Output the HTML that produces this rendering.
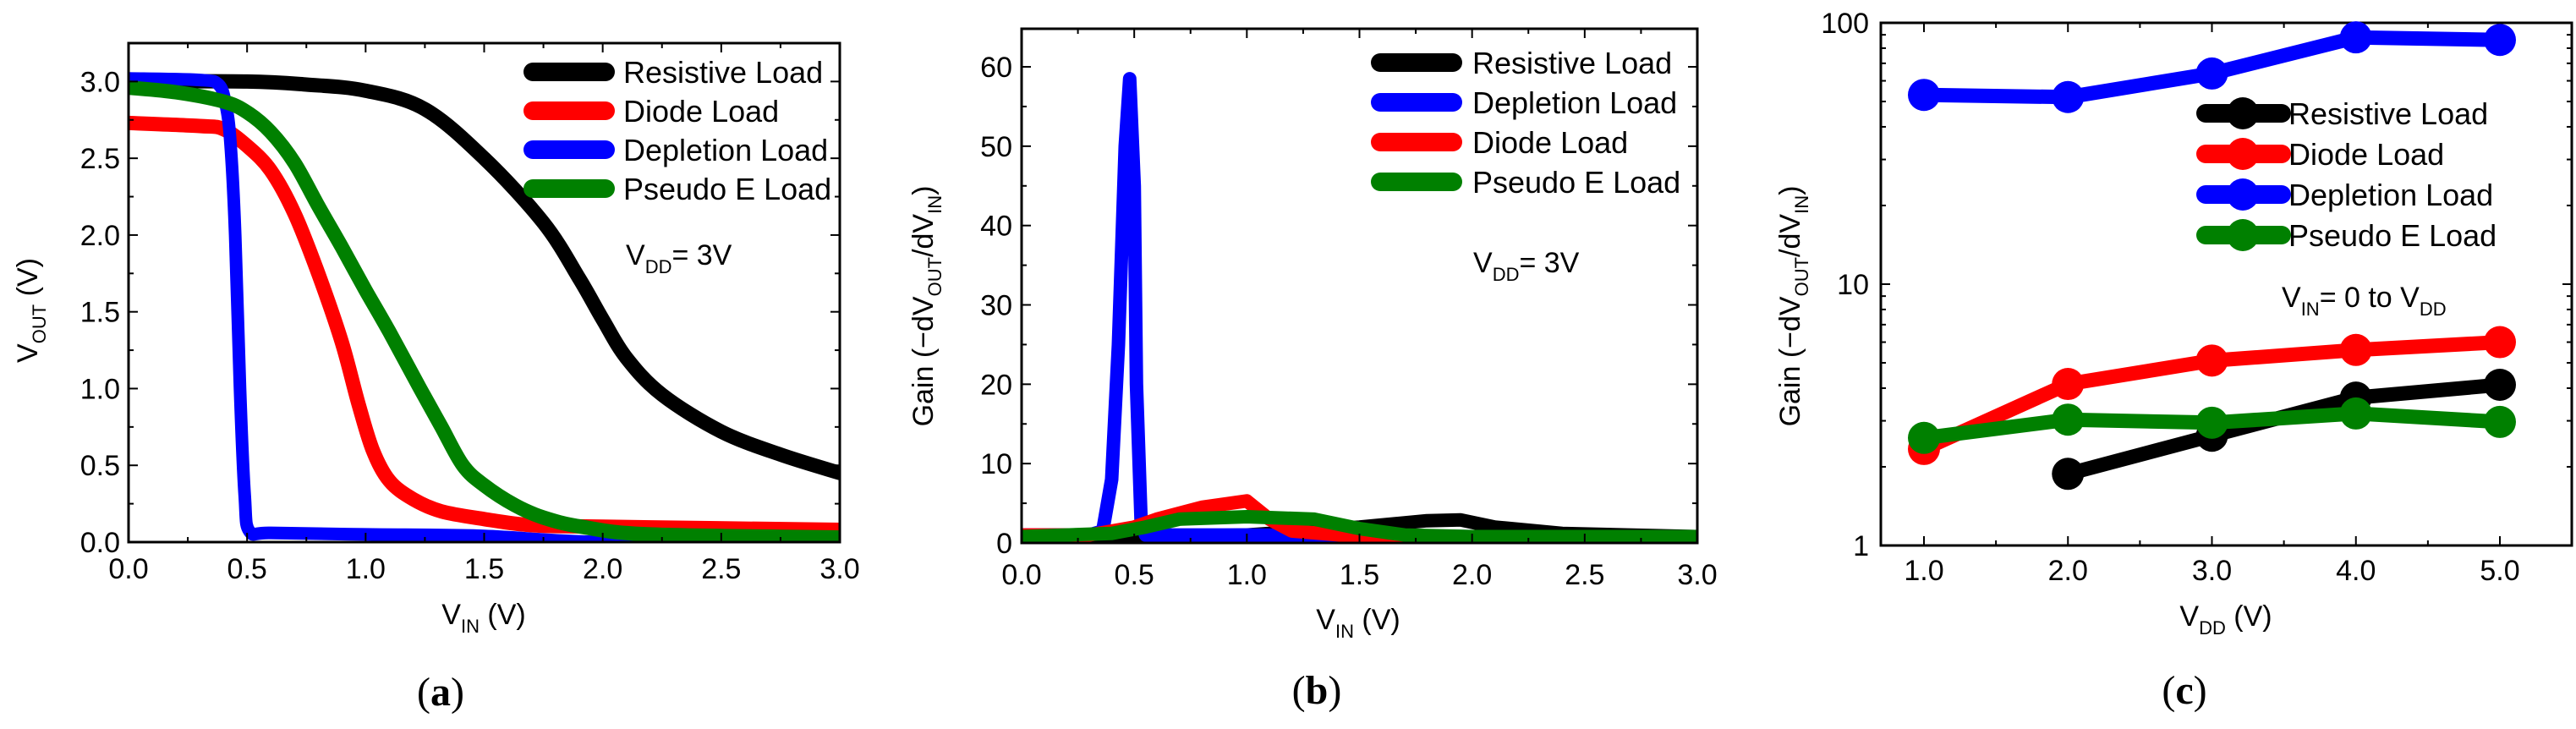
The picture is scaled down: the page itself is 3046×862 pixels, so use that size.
<!DOCTYPE html>
<html><head><meta charset="utf-8">
<style>
html,body{margin:0;padding:0;background:#fff;}
svg{display:block;font-family:"Liberation Sans",Arial,sans-serif;}
</style></head>
<body>
<svg id="fig" width="3046" height="862" viewBox="0 0 3046 862" xmlns="http://www.w3.org/2000/svg">
<g id="pa"></g>
<g id="pb"></g>
<g id="pc"></g>
</svg>
<script>
// ---------- Panel (a) data ----------
const aRes = [[0,3.0],[0.5,3.0],[0.75,2.98],[1.0,2.94],[1.25,2.82],[1.5,2.5],[1.75,2.08],[1.9,1.72],[2.0,1.45],[2.1,1.2],[2.25,0.96],[2.5,0.72],[2.75,0.57],[3.0,0.45]];
const aDio = [[0,2.73],[0.3,2.71],[0.4,2.69],[0.5,2.58],[0.6,2.42],[0.7,2.14],[0.8,1.75],[0.9,1.3],[0.97,0.9],[1.03,0.6],[1.1,0.4],[1.2,0.28],[1.32,0.2],[1.5,0.15],[1.7,0.11],[2.0,0.1],[3.0,0.08]];
const aDep = [[0,3.02],[0.3,3.01],[0.38,2.98],[0.41,2.85],[0.43,2.6],[0.45,2.0],[0.47,1.0],[0.49,0.3],[0.51,0.07],[0.6,0.06],[1.0,0.05],[1.5,0.04],[2.0,0.0],[3.0,0.0]];
const aPse = [[0,2.96],[0.2,2.93],[0.4,2.87],[0.5,2.8],[0.6,2.67],[0.7,2.47],[0.8,2.19],[0.9,1.92],[1.0,1.64],[1.1,1.37],[1.23,1.0],[1.32,0.75],[1.41,0.5],[1.5,0.37],[1.63,0.24],[1.75,0.16],[1.91,0.1],[2.2,0.05],[3.0,0.03]];
const aXTicks = ["0.0","0.5","1.0","1.5","2.0","2.5","3.0"];
const aYTicks = ["0.0","0.5","1.0","1.5","2.0","2.5","3.0"];
// ---------- Panel (b) data ----------
const bRes = [[0,0.6],[0.5,0.8],[1.0,1.0],[1.5,2.0],[1.8,2.8],[1.95,2.9],[2.1,2.0],[2.4,1.2],[3.0,0.8]];
const bDep = [[0,1],[0.3,1],[0.36,1.5],[0.4,8],[0.43,25],[0.46,50],[0.48,58.5],[0.5,45],[0.51,20],[0.53,3],[0.55,1],[1.0,1],[3.0,0.6]];
const bDio = [[0,1],[0.3,1],[0.5,2],[0.6,3],[0.8,4.5],[1.0,5.3],[1.1,3],[1.2,1.5],[1.5,0.8],[3.0,0.6]];
const bPse = [[0,0.8],[0.4,1.2],[0.55,2],[0.7,3],[1.0,3.3],[1.3,3],[1.5,1.8],[1.7,1],[2.0,0.8],[3.0,0.8]];
const bXTicks = ["0.0","0.5","1.0","1.5","2.0","2.5","3.0"];
const bYTicks = ["0","10","20","30","40","50","60"];
// ---------- Panel (c) data ----------
const cVdd = [1,2,3,4,5];
const cRes = [null,1.88,2.63,3.68,4.12];
const cDio = [2.34,4.15,5.1,5.6,6.0];
const cDep = [53,52,64,88,86];
const cPse = [2.58,3.03,2.95,3.2,2.97];
const cXTicks = ["1.0","2.0","3.0","4.0","5.0"];
const cYTicks = ["1","10","100"];

const NS="http://www.w3.org/2000/svg";
function mk(parent,tag,attrs){const e=document.createElementNS(NS,tag);for(const k in attrs)e.setAttribute(k,attrs[k]);parent.appendChild(e);return e;}
function txt(parent,x,y,s,size,anchor,extra){const t=mk(parent,'text',Object.assign({x:x,y:y,'font-size':size,'text-anchor':anchor||'start',fill:'#000'},extra||{}));t.innerHTML=s;return t;}
const C={k:'#000000',r:'#ff0000',b:'#0000ff',g:'#008000'};

function frame(g,L,T,R,B){mk(g,'rect',{x:L,y:T,width:R-L,height:B-T,fill:'none',stroke:'#000','stroke-width':3});}
function pathD(P,smooth){
  if(!smooth) return P.map((p,i)=>(i?'L':'M')+p[0].toFixed(1)+','+p[1].toFixed(1)).join(' ');
  let d='M'+P[0][0].toFixed(1)+','+P[0][1].toFixed(1);
  for(let i=0;i<P.length-1;i++){
    const p0=P[Math.max(i-1,0)],p1=P[i],p2=P[i+1],p3=P[Math.min(i+2,P.length-1)];
    const c1=[p1[0]+(p2[0]-p0[0])/6,p1[1]+(p2[1]-p0[1])/6];
    const c2=[p2[0]-(p3[0]-p1[0])/6,p2[1]-(p3[1]-p1[1])/6];
    d+=' C'+c1[0].toFixed(1)+','+c1[1].toFixed(1)+' '+c2[0].toFixed(1)+','+c2[1].toFixed(1)+' '+p2[0].toFixed(1)+','+p2[1].toFixed(1);
  }
  return d;
}
function linePath(g,pts,sx,sy,color,w,name,smooth){
  const P=pts.map(p=>[sx(p[0]),sy(p[1])]);
  const p=mk(g,'path',{d:pathD(P,smooth),fill:'none',stroke:color,'stroke-width':w,'stroke-linejoin':'round','stroke-linecap':'round'});
  
  
  return p;
}

// ===== Panel A =====
(function(){
 const g=document.getElementById('pa');
 const L=152,R=993,T=51,B=641;
 const sx=v=>L+(v/3)*(R-L), sy=v=>B-(v/3.25)*(B-T);
 const clip=mk(g,'clipPath',{id:'ca'});mk(clip,'rect',{x:L,y:T,width:R-L,height:B-T});
 const dg=mk(g,'g',{'clip-path':'url(#ca)'});
 linePath(dg,aRes,sx,sy,C.k,17,'resistive-load-line',true);
 linePath(dg,aDio,sx,sy,C.r,17,'diode-load-line',true);
 linePath(dg,aDep,sx,sy,C.b,15,'depletion-load-line',true);
 linePath(dg,aPse,sx,sy,C.g,17,'pseudo-e-load-line',true);
 frame(g,L,T,R,B);
 for(let i=0;i<=12;i++){const v=i*0.25,x=sx(v),l=i%2?6:11;mk(g,'line',{x1:x,y1:B,x2:x,y2:B-l,stroke:'#000','stroke-width':2});mk(g,'line',{x1:x,y1:T,x2:x,y2:T+l,stroke:'#000','stroke-width':2});}
 for(let i=0;i<=13;i++){const v=i*0.25,y=sy(v),l=i%2?6:11;mk(g,'line',{x1:L,y1:y,x2:L+l,y2:y,stroke:'#000','stroke-width':2});mk(g,'line',{x1:R,y1:y,x2:R-l,y2:y,stroke:'#000','stroke-width':2});}
 aXTicks.forEach((s,i)=>{const t=txt(g,sx(i*0.5),684,s,34,'middle');});
 aYTicks.forEach((s,i)=>{const t=txt(g,142,sy(i*0.5)+12,s,34,'end');});
 const leg=[['Resistive Load',C.k],['Diode Load',C.r],['Depletion Load',C.b],['Pseudo E Load',C.g]];
 leg.forEach((e,i)=>{const y=85+i*46;const l=mk(g,'line',{x1:630,y1:y,x2:716,y2:y,stroke:e[1],'stroke-width':22,'stroke-linecap':'round'});const t=txt(g,737,y+13,e[0],36,'start');});
 const v=txt(g,740,313,'V<tspan font-size="22" dy="10">DD</tspan><tspan dy="-10">= 3V</tspan>',34);
 const yt=txt(g,0,0,'V<tspan font-size="22" dy="10">OUT</tspan><tspan dy="-10"> (V)</tspan>',34,'middle',{transform:'translate(44,367) rotate(-90)'});
 const xt=txt(g,572,738,'V<tspan font-size="22" dy="10">IN</tspan><tspan dy="-10"> (V)</tspan>',34,'middle');
 const cap=txt(g,521,834,'(<tspan font-weight="bold">a</tspan>)',48,'middle',{'font-family':'"Liberation Serif",serif'});
})();

// ===== Panel B =====
(function(){
 const g=document.getElementById('pb');
 const L=1208,R=2007,T=34,B=642;
 const sx=v=>L+(v/3)*(R-L), sy=v=>B-(v/64.8)*(B-T);
 const clip=mk(g,'clipPath',{id:'cb'});mk(clip,'rect',{x:L,y:T,width:R-L,height:B-T});
 const dg=mk(g,'g',{'clip-path':'url(#cb)'});
 linePath(dg,bRes,sx,sy,C.k,16,'resistive-gain-line',false);
 linePath(dg,bDep,sx,sy,C.b,16,'depletion-gain-line',false);
 linePath(dg,bDio,sx,sy,C.r,16,'diode-gain-line',false);
 linePath(dg,bPse,sx,sy,C.g,16,'pseudo-e-gain-line',false);
 frame(g,L,T,R,B);
 for(let i=0;i<=12;i++){const v=i*0.25,x=sx(v),l=i%2?6:11;mk(g,'line',{x1:x,y1:B,x2:x,y2:B-l,stroke:'#000','stroke-width':2});mk(g,'line',{x1:x,y1:T,x2:x,y2:T+l,stroke:'#000','stroke-width':2});}
 for(let i=0;i<=12;i++){const v=i*5,y=sy(v),l=i%2?6:11;mk(g,'line',{x1:L,y1:y,x2:L+l,y2:y,stroke:'#000','stroke-width':2});mk(g,'line',{x1:R,y1:y,x2:R-l,y2:y,stroke:'#000','stroke-width':2});}
 bXTicks.forEach((s,i)=>{const t=txt(g,sx(i*0.5),691,s,34,'middle');});
 bYTicks.forEach((s,i)=>{const t=txt(g,1197,sy(i*10)+12,s,34,'end');});
 const leg=[['Resistive Load',C.k],['Depletion Load',C.b],['Diode Load',C.r],['Pseudo E Load',C.g]];
 leg.forEach((e,i)=>{const y=74+i*47;const l=mk(g,'line',{x1:1632,y1:y,x2:1718,y2:y,stroke:e[1],'stroke-width':22,'stroke-linecap':'round'});const t=txt(g,1741,y+13,e[0],36,'start');});
 const v=txt(g,1742,322,'V<tspan font-size="22" dy="10">DD</tspan><tspan dy="-10">= 3V</tspan>',34);
 const yt=txt(g,0,0,'Gain (&#8722;dV<tspan font-size="22" dy="10">OUT</tspan><tspan dy="-10">/dV</tspan><tspan font-size="22" dy="10">IN</tspan><tspan dy="-10">)</tspan>',34,'middle',{transform:'translate(1103,362) rotate(-90)'});
 const xt=txt(g,1606,744,'V<tspan font-size="22" dy="10">IN</tspan><tspan dy="-10"> (V)</tspan>',34,'middle');
 const cap=txt(g,1557,832,'(<tspan font-weight="bold">b</tspan>)',48,'middle',{'font-family':'"Liberation Serif",serif'});
})();

// ===== Panel C =====
(function(){
 const g=document.getElementById('pc');
 const L=2224,R=3041,T=27,B=645;
 const sx=v=>2275+(v-1)*170.25, sy=v=>B-Math.log10(v)/2*(B-T);
 frame(g,L,T,R,B);
 for(let i=0;i<=9;i++){const v=1+i*0.5;const x=sx(v),l=i%2?6:11;mk(g,'line',{x1:x,y1:B,x2:x,y2:B-l,stroke:'#000','stroke-width':2});mk(g,'line',{x1:x,y1:T,x2:x,y2:T+l,stroke:'#000','stroke-width':2});}
 [1,10].forEach(d=>{for(let m=1;m<=10;m++){const y=sy(d*m),l=(m===1||m===10)?11:6;mk(g,'line',{x1:L,y1:y,x2:L+l,y2:y,stroke:'#000','stroke-width':2});mk(g,'line',{x1:R,y1:y,x2:R-l,y2:y,stroke:'#000','stroke-width':2});}});
 const series=[[cRes,C.k,'resistive'],[cDio,C.r,'diode'],[cDep,C.b,'depletion'],[cPse,C.g,'pseudo-e']];
 series.forEach(s=>{
   const pts=[];cVdd.forEach((x,i)=>{if(s[0][i]!=null)pts.push([x,s[0][i]]);});
   linePath(g,pts,sx,sy,s[1],17,s[2]+'-gain-line',false);
   pts.forEach(p=>{const c=mk(g,'circle',{cx:sx(p[0]),cy:sy(p[1]),r:19,fill:s[1]});
     
     });
 });
 cXTicks.forEach((s,i)=>{const t=txt(g,sx(i+1),686,s,34,'middle');});
 cYTicks.forEach((s,i)=>{const t=txt(g,2210,sy(Math.pow(10,i))+12,s,34,'end');});
 const leg=[['Resistive Load',C.k],['Diode Load',C.r],['Depletion Load',C.b],['Pseudo E Load',C.g]];
 leg.forEach((e,i)=>{const y=134+i*48;const l=mk(g,'line',{x1:2608,y1:y,x2:2698,y2:y,stroke:e[1],'stroke-width':22,'stroke-linecap':'round'});mk(g,'circle',{cx:2652,cy:y,r:19,fill:e[1]});const t=txt(g,2706,y+13,e[0],36,'start');});
 const v=txt(g,2698,363,'V<tspan font-size="22" dy="10">IN</tspan><tspan dy="-10">= 0 to V</tspan><tspan font-size="22" dy="10">DD</tspan>',34);
 const yt=txt(g,0,0,'Gain (&#8722;dV<tspan font-size="22" dy="10">OUT</tspan><tspan dy="-10">/dV</tspan><tspan font-size="22" dy="10">IN</tspan><tspan dy="-10">)</tspan>',34,'middle',{transform:'translate(2128,362) rotate(-90)'});
 const xt=txt(g,2632,740,'V<tspan font-size="22" dy="10">DD</tspan><tspan dy="-10"> (V)</tspan>',34,'middle');
 const cap=txt(g,2583,832,'(<tspan font-weight="bold">c</tspan>)',48,'middle',{'font-family':'"Liberation Serif",serif'});
})();
</script>
</body></html>
